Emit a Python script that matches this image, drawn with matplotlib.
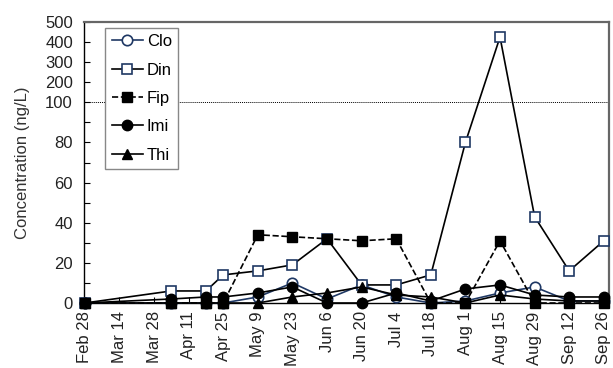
import matplotlib
matplotlib.use("Agg")
import matplotlib.pyplot as plt
import numpy as np
import pandas as pd

plt.rcParams['font.family'] = ['Liberation Sans', 'DejaVu Sans']

# ---- data ----
sample_dates = ['2011-02-28', '2011-04-04', '2011-04-18', '2011-04-25', '2011-05-09',
                '2011-05-23', '2011-06-06', '2011-06-20', '2011-07-04', '2011-07-18',
                '2011-08-01', '2011-08-15', '2011-08-29', '2011-09-12', '2011-09-26']
clo = [0, 0, 0, 0, 3, 10, 2, 9, 3, 0, 1, 5, 8, 1, 1]
din = [0, 6, 6, 14, 16, 19, 32, 9, 9, 14, 80, 425, 43, 16, 31]
fip = [0, 0, 0, 0, 34, 33, 32, 31, 32, 0, 0, 31, 0, 0, 0]
imi = [0, 2, 3, 3, 5, 8, 0, 0, 5, 1, 7, 9, 4, 3, 3]
thi = [0, 0, 0, 0, 0, 3, 5, 8, 4, 3, 0, 4, 2, 1, 1]

tick_dates = ['2011-02-28', '2011-03-14', '2011-03-28', '2011-04-11', '2011-04-25',
              '2011-05-09', '2011-05-23', '2011-06-06', '2011-06-20', '2011-07-04',
              '2011-07-18', '2011-08-01', '2011-08-15', '2011-08-29', '2011-09-12',
              '2011-09-26']
tick_labels = ['Feb 28', 'Mar 14', 'Mar 28', 'Apr 11', 'Apr 25', 'May 9', 'May 23',
               'Jun 6', 'Jun 20', 'Jul 4', 'Jul 18', 'Aug 1', 'Aug 15', 'Aug 29',
               'Sep 12', 'Sep 26']
y_major = [0, 20, 40, 60, 80, 100, 200, 300, 400, 500]
y_minor = [10, 30, 50, 70, 90]

x = pd.to_datetime(sample_dates)
xt = pd.to_datetime(tick_dates)

# piecewise scale: linear 0-100, compressed 100-500
def fwd(v):
    v = np.asarray(v, dtype=float)
    return np.where(v <= 100, v, 100 + (v - 100) / 10.0)

def inv(v):
    v = np.asarray(v, dtype=float)
    return np.where(v <= 100, v, 100 + (v - 100) * 10.0)

fig = plt.figure(figsize=(6.13, 3.68), dpi=100)
ax = fig.add_axes([84 / 613, 65 / 368, 524.5 / 613, 281 / 368])
ax.set_yscale('function', functions=(fwd, inv))

navy = '#1f3864'
ms = 7.5
lw = 1.2
ax.plot(x, clo, '-', color=navy, lw=lw, marker='o', ms=ms, mfc='white', mec=navy,
        mew=1.2, label='Clo', clip_on=False, zorder=3)
ax.plot(x, din, '-', color='black', lw=lw, marker='s', ms=ms, mfc='white', mec=navy,
        mew=1.2, label='Din', clip_on=False, zorder=3)
ax.plot(x, fip, '--', color='black', lw=lw, marker='s', ms=ms, mfc='black', mec='black',
        label='Fip', clip_on=False, zorder=4)
ax.plot(x, imi, '-', color='black', lw=lw, marker='o', ms=ms, mfc='black', mec='black',
        label='Imi', clip_on=False, zorder=4)
ax.plot(x, thi, '-', color='black', lw=lw, marker='^', ms=ms, mfc='black', mec='black',
        label='Thi', clip_on=False, zorder=4)

ax.axhline(100, color='black', lw=0.7, ls=(0, (1, 1)), zorder=1)

x0 = xt[0] - pd.Timedelta(hours=8)
x1 = xt[-1] + pd.Timedelta(days=1.9)
ax.set_xlim(x0, x1)
ax.set_ylim(0, 500)

ax.set_xticks(xt)
ax.set_xticklabels(tick_labels, rotation=90, fontsize=12, color='#222222')
ax.set_yticks(y_major)
ax.set_yticklabels([str(v) for v in y_major], fontsize=12, color='#222222')
ax.set_yticks(y_minor, minor=True)
ax.tick_params(axis='both', which='both', direction='in', length=4, width=0.8)
ax.tick_params(axis='x', pad=6)
ax.tick_params(axis='y', pad=8)

for s in ['left', 'bottom']:
    ax.spines[s].set_color('black')
    ax.spines[s].set_linewidth(1.0)
for s in ['top', 'right']:
    ax.spines[s].set_color('#666666')
    ax.spines[s].set_linewidth(1.6)

ax.set_ylabel('Concentration (ng/L)', fontsize=12, color='#333333', labelpad=11)

leg = ax.legend(loc='upper left', bbox_to_anchor=(0.04, 0.98), fontsize=12,
                frameon=True, fancybox=False, framealpha=1, edgecolor='#888888',
                handlelength=1.9, labelspacing=0.8, borderpad=0.4,
                handletextpad=0.2, borderaxespad=0)
leg.get_frame().set_linewidth(1.0)
leg.set_zorder(10)

fig.savefig('out.png', dpi=100)
